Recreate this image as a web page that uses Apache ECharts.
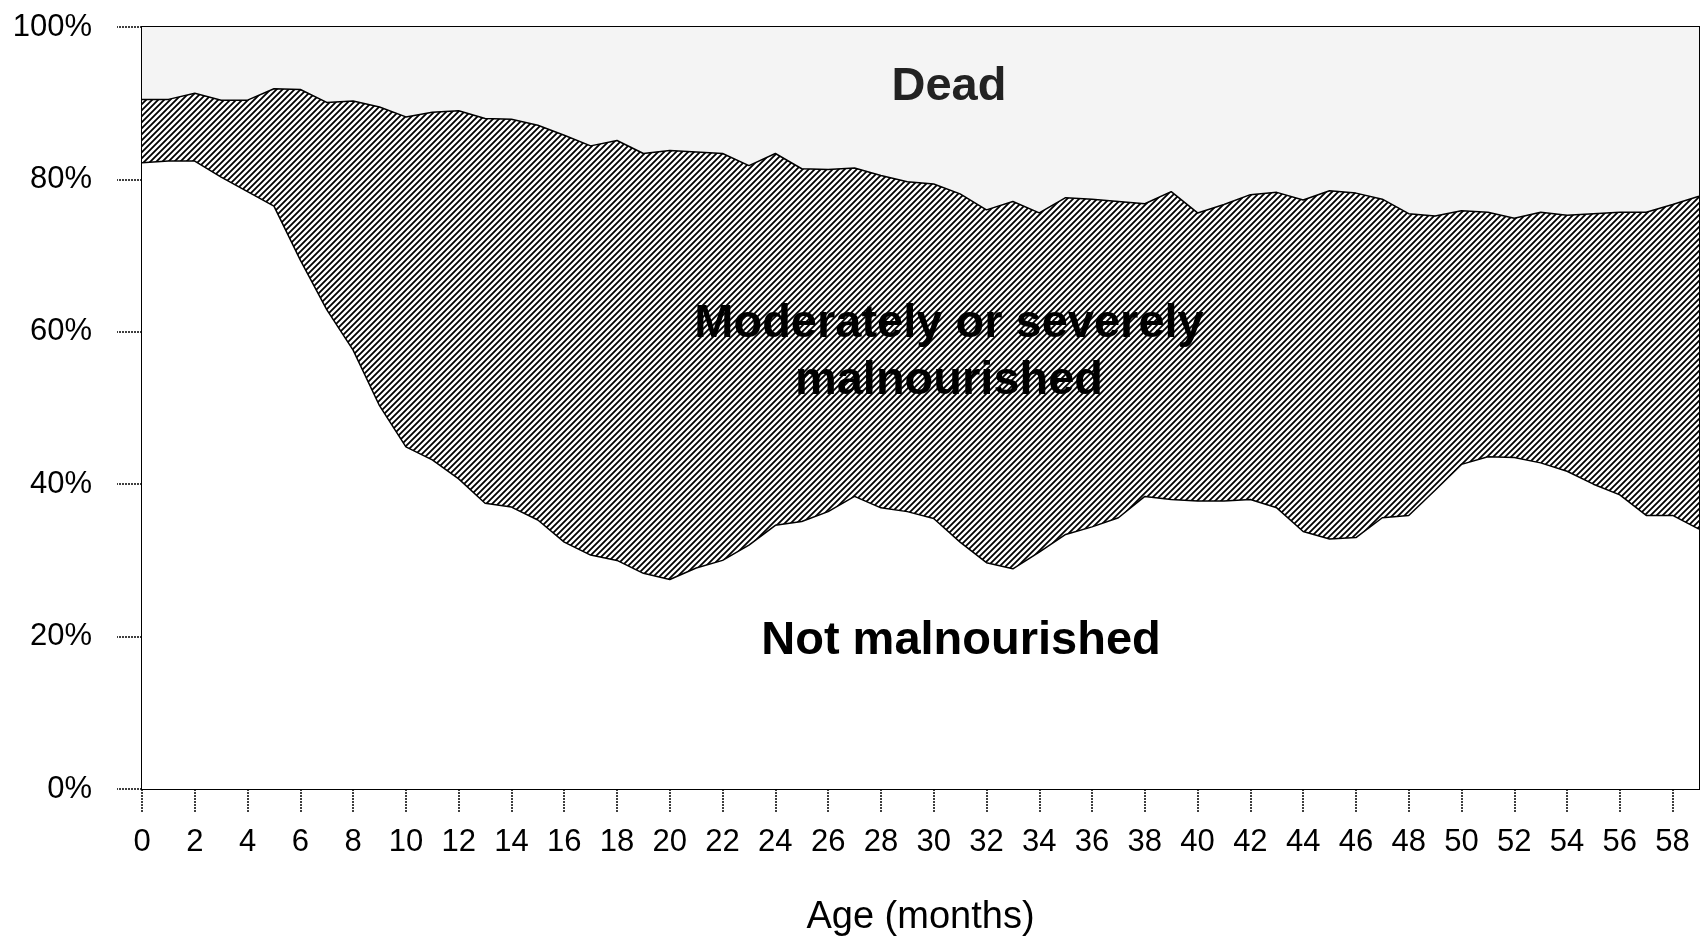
<!DOCTYPE html>
<html>
<head>
<meta charset="utf-8">
<title>Nutritional status by age</title>
<script src="https://cdn.jsdelivr.net/npm/echarts@6/dist/echarts.min.js"></script>
<style>
  html, body { margin: 0; padding: 0; background: #fff; }
  #chart { width: 1701px; height: 942px; }
</style>
</head>
<body>
<div id="chart"></div>
<script>
// age in months (x axis categories)
const months = ['0','1','2','3','4','5','6','7','8','9',
  '10','11','12','13','14','15','16','17','18','19',
  '20','21','22','23','24','25','26','27','28','29',
  '30','31','32','33','34','35','36','37','38','39',
  '40','41','42','43','44','45','46','47','48','49',
  '50','51','52','53','54','55','56','57','58','59'];

// share (%) of children in each state
const notMalnourished = [82.2,82.4,82.4,80.3,78.4,76.5,69.4,62.9,57.6,50.3,
  44.9,43.2,40.7,37.5,37.0,35.3,32.4,30.7,30.0,28.3,
  27.5,29.0,30.0,32.0,34.6,35.1,36.4,38.4,36.9,36.4,
  35.5,32.4,29.7,28.9,31.1,33.4,34.4,35.6,38.4,38.0,
  37.8,37.8,38.0,36.9,33.8,32.8,33.0,35.6,35.9,39.2,
  42.6,43.6,43.5,42.8,41.7,40.0,38.6,35.9,35.9,34.1];

const malnourished = [8.3,8.1,8.9,10.1,12.0,15.4,22.4,27.2,32.7,39.2,
  43.3,45.6,48.3,50.5,50.9,51.8,53.4,53.7,55.1,55.1,
  56.3,54.6,53.4,49.8,48.8,46.3,44.9,43.1,43.6,43.3,
  43.9,45.7,46.3,48.2,44.5,44.2,43.0,41.5,38.4,40.4,
  37.8,38.9,40.0,41.4,43.5,45.7,45.2,41.8,39.6,36.0,
  33.3,32.1,31.4,32.9,33.6,35.5,37.1,39.8,40.8,43.7];

const dead = [9.5,9.5,8.7,9.6,9.6,8.1,8.2,9.9,9.7,10.5,
  11.8,11.2,11.0,12.0,12.1,12.9,14.2,15.6,14.9,16.6,
  16.2,16.4,16.6,18.2,16.6,18.6,18.7,18.5,19.5,20.3,
  20.6,21.9,24.0,22.9,24.4,22.4,22.6,22.9,23.2,21.6,
  24.4,23.3,22.0,21.7,22.7,21.5,21.8,22.6,24.5,24.8,
  24.1,24.3,25.1,24.3,24.7,24.5,24.3,24.3,23.3,22.2];

const yTicks = [0, 20, 40, 60, 80, 100];

// diagonal hatch for the malnourished band
function makeHatch() {
  const s = 6;
  const c = document.createElement('canvas');
  c.width = s; c.height = s;
  const ctx = c.getContext('2d');
  ctx.fillStyle = '#fff';
  ctx.fillRect(0, 0, s, s);
  ctx.strokeStyle = '#000';
  ctx.lineWidth = 1.8;
  ctx.beginPath();
  ctx.moveTo(0, s); ctx.lineTo(s, 0);
  ctx.moveTo(-1, 1); ctx.lineTo(1, -1);
  ctx.moveTo(s - 1, s + 1); ctx.lineTo(s + 1, s - 1);
  ctx.stroke();
  return c;
}

const chart = echarts.init(document.getElementById('chart'));
const font = '"Liberation Sans", Arial, sans-serif';

const option = {
  animation: false,
  textStyle: { fontFamily: font },
  grid: {
    left: 142, right: 2, top: 27, bottom: 149,
    show: true, borderColor: '#000', borderWidth: 2,
    backgroundColor: 'transparent'
  },
  xAxis: {
    type: 'category',
    data: months,
    boundaryGap: false,
    name: 'Age (months)',
    nameLocation: 'middle',
    nameGap: 110,
    nameTextStyle: { fontSize: 38, color: '#000', fontFamily: font },
    axisLine: { lineStyle: { color: '#000', width: 2 } },
    axisTick: {
      interval: 1, length: 24,
      lineStyle: { color: '#000', width: 1.5, type: [2, 1] }
    },
    axisLabel: { interval: 1, fontSize: 31, color: '#000', margin: 38, fontFamily: font },
    splitLine: { show: false }
  },
  yAxis: {
    type: 'value',
    min: yTicks[0],
    max: yTicks[yTicks.length - 1],
    interval: 20,
    axisLine: { show: true, lineStyle: { color: '#000', width: 2 } },
    axisTick: {
      show: true, length: 25,
      lineStyle: { color: '#000', width: 1.5, type: [2, 1] }
    },
    axisLabel: { fontSize: 31, color: '#000', margin: 50, formatter: '{value}%', fontFamily: font },
    splitLine: { show: false }
  },
  series: [
    {
      name: 'Not malnourished',
      type: 'line',
      stack: 'all',
      data: notMalnourished,
      symbol: 'none',
      lineStyle: { color: '#000', width: 1.5 },
      areaStyle: { color: '#fff', opacity: 1 },
      z: 3
    },
    {
      name: 'Moderately or severely malnourished',
      type: 'line',
      stack: 'all',
      data: malnourished,
      symbol: 'none',
      lineStyle: { color: '#000', width: 1.5 },
      areaStyle: { color: { image: makeHatch(), repeat: 'repeat' }, opacity: 1 },
      z: 2
    },
    {
      name: 'Dead',
      type: 'line',
      stack: 'all',
      data: dead,
      symbol: 'none',
      lineStyle: { width: 0 },
      areaStyle: { color: '#f4f4f4', opacity: 1 },
      z: 1
    }
  ],
  graphic: [
    {
      type: 'text', x: 949, y: 87, z: 100,
      style: {
        text: 'Dead', fill: '#222', font: 'bold 47px ' + font,
        align: 'center', verticalAlign: 'middle'
      }
    },
    {
      type: 'text', x: 949, y: 353, z: 100,
      style: {
        text: 'Moderately or severely\nmalnourished', fill: '#000',
        font: 'bold 47px ' + font, lineHeight: 57,
        align: 'center', verticalAlign: 'middle'
      }
    },
    {
      type: 'text', x: 961, y: 641, z: 100,
      style: {
        text: 'Not malnourished', fill: '#000', font: 'bold 47px ' + font,
        align: 'center', verticalAlign: 'middle'
      }
    }
  ]
};

chart.setOption(option);
</script>
</body>
</html>
